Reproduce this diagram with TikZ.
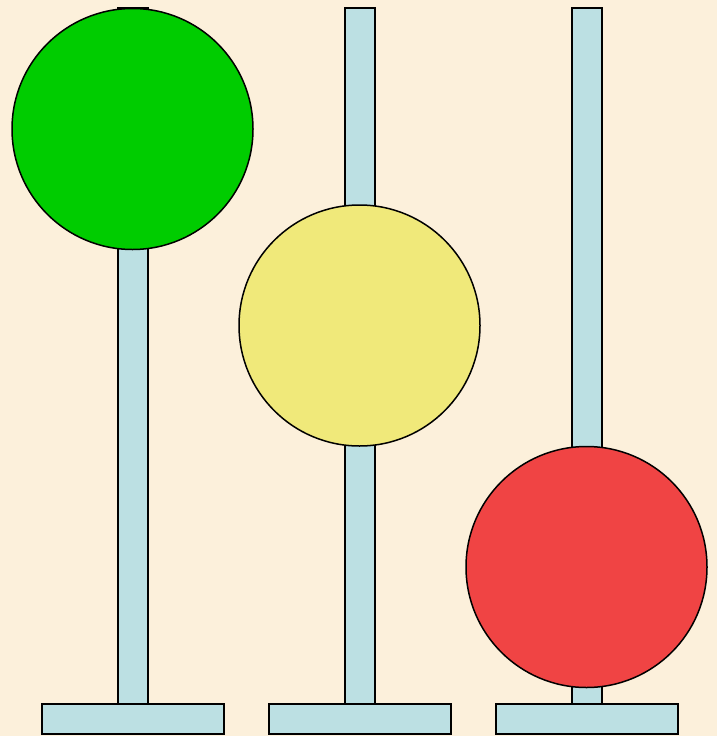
\documentclass[tikz,border=0pt]{standalone}
\usetikzlibrary{positioning}
\definecolor{bgc}{HTML}{FCF0DB}
\definecolor{polec}{HTML}{BCE0E3}
\definecolor{greenc}{HTML}{00CC00}
\definecolor{yellowc}{HTML}{F0E97A}
\definecolor{redc}{HTML}{F04444}
\begin{document}
\begin{tikzpicture}[x=1pt,y=-1pt,
  pole/.style={draw=black,fill=polec,line width=1.5pt},
  basebox/.style={draw=black,fill=polec,line width=2pt},
  disc/.style={circle,draw=black,line width=1.5pt,minimum size=241pt,inner sep=0pt}]
\fill[bgc] (0,0) rectangle (717,736);
\useasboundingbox (0,0) rectangle (717,736);
% poles
\foreach \c in {133,360,587}{
  \draw[pole] (\c-15,8) rectangle (\c+15,704);
  \draw[basebox] (\c-91,704) rectangle (\c+91,734);
}
% discs
\node[disc,fill=greenc] (g) at (132.5,129) {};
\node[disc,fill=yellowc] (y) at (359.5,325.5) {};
\node[disc,fill=redc] (r) at (586.5,567) {};
\end{tikzpicture}
\end{document}
